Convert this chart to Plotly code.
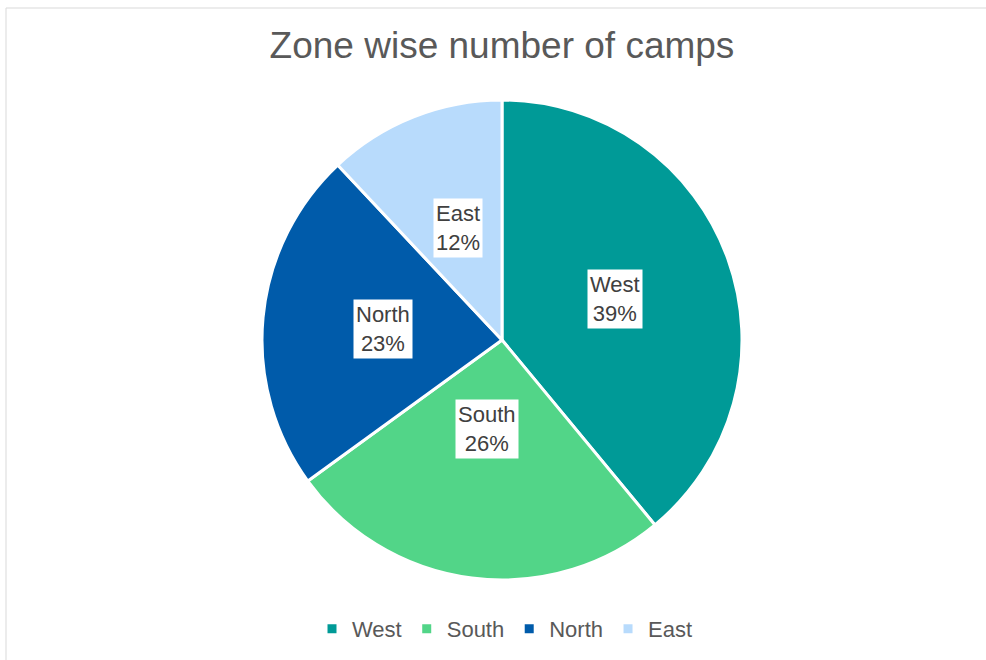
import math
import plotly.graph_objects as go

zones = ["West", "South", "North", "East"]
camps = [39, 26, 23, 12]
colors = ["#009A97", "#52D588", "#005BAA", "#B8DBFC"]
title_text = "Zone wise number of camps"

W, H = 986, 660
cx_px, cy_px, r_px = 502, 340, 240
dom_x = [(cx_px - r_px) / W, (cx_px + r_px) / W]
dom_y = [1 - (cy_px + r_px) / H, 1 - (cy_px - r_px) / H]
FONT = "Liberation Sans, Arial, Helvetica"

fig = go.Figure(go.Pie(
    labels=zones, values=camps, sort=False, direction="clockwise", rotation=0,
    marker=dict(colors=colors, line=dict(color="white", width=3)),
    textinfo="none", hoverinfo="label+percent",
    domain=dict(x=dom_x, y=dom_y),
))

# data labels placed at slice mid-angles computed from the values
total = sum(camps)
cum = 0
annotations = []
for z, v in zip(zones, camps):
    mid = (cum + v / 2) / total * 2 * math.pi
    cum += v
    px = cx_px + 0.5 * r_px * math.sin(mid)
    py = cy_px - 0.5 * r_px * math.cos(mid)
    pct = round(v / total * 100)
    annotations.append(dict(
        x=px / W, y=1 - py / H, xref="paper", yref="paper", showarrow=False,
        text=f"{z}<br>{pct}%", bgcolor="white", borderpad=2,
        font=dict(size=22, color="#404040", family=FONT),
        align="center",
    ))

fig.update_layout(
    width=W, height=H, autosize=False,
    margin=dict(l=0, r=0, t=0, b=0),
    paper_bgcolor="white", plot_bgcolor="white",
    font=dict(family=FONT, color="#595959"),
    title=dict(text=title_text, x=502 / W, xanchor="center", y=1 - 45 / H, yanchor="middle",
               font=dict(size=37, color="#595959", family=FONT)),
    legend=dict(orientation="h", x=505 / W, xanchor="center", y=1 - 629 / H, yanchor="middle",
                font=dict(size=22, color="#595959"), traceorder="normal", itemwidth=30),
    annotations=annotations,
    shapes=[dict(type="rect", xref="paper", yref="paper", x0=6 / W, y0=-0.05, x1=1.05, y1=1 - 8 / H,
                 line=dict(color="#D9D9D9", width=1), fillcolor="rgba(0,0,0,0)", layer="below")],
)

fig.write_html("out.html", config={"displayModeBar": False},
               post_script="document.body.style.margin='0px';")
